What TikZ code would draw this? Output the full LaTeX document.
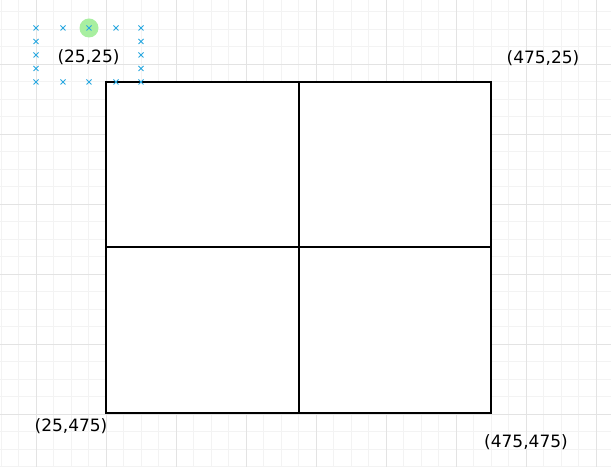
\documentclass[tikz,border=0pt]{standalone}
\usepackage{fontspec}
\newfontfamily\coordfont{DejaVu Sans}
\definecolor{gridminor}{HTML}{F3F3F3}
\definecolor{gridmajor}{HTML}{E3E3E3}
\definecolor{markblue}{HTML}{2AA8E0}
\definecolor{hovergreen}{HTML}{A8EFA0}
\tikzset{
  cell/.style={draw=black,line width=1.8bp},
  minorline/.style={draw=gridminor,line width=0.8bp},
  majorline/.style={draw=gridmajor,line width=0.9bp},
  xmark/.style={draw=markblue,line width=0.8bp},
  coordlabel/.style={font=\coordfont\fontsize{17bp}{20bp}\selectfont,inner sep=0pt}
}
\begin{document}
\begin{tikzpicture}[x=1bp,y=-1bp]
\useasboundingbox[fill=white] (0,0) rectangle (611,467);
% grid
\foreach \i in {0,...,34} {
  \draw[minorline] ({1+17.5*\i},0) -- ({1+17.5*\i},467);
}
\foreach \i in {0,...,26} {
  \draw[minorline] (0,{11.5+17.5*\i}) -- (611,{11.5+17.5*\i});
}
\foreach \i in {0,...,8} {
  \draw[majorline] ({36+70*\i},0) -- ({36+70*\i},467);
}
\foreach \i in {0,...,6} {
  \draw[majorline] (0,{-6+70*\i}) -- (611,{-6+70*\i});
}
% corners of the square
\coordinate (nw) at (106,82);
\coordinate (ne) at (491,82);
\coordinate (sw) at (106,413);
\coordinate (se) at (491,413);
\coordinate (n) at (299,82);
\coordinate (s) at (299,413);
\coordinate (w) at (106,247);
\coordinate (e) at (491,247);
\fill[white] (nw) rectangle (se);
\draw[cell] (n) -- (s);
\draw[cell] (w) -- (e);
\draw[cell] (nw) -- (ne) -- (se) -- (sw) -- cycle;
% hover point
\fill[hovergreen] (89,28) circle (9.5);
\foreach \p in {(36,28),(63,28),(89,28),(116,28),(141,28),
                (36,41.5),(36,55),(36,68.5),(141,41.5),(141,55),(141,68.5),
                (36,82),(63,82),(89,82),(116,82),(141,82)} {
  \draw[xmark] \p ++(-2.5,-2.5) -- ++(5,5) \p ++(-2.5,2.5) -- ++(5,-5);
}
% labels
\node[coordlabel] (lnw) at (88.5,57) {(25,25)};
\node[coordlabel] (lne) at (543,58) {(475,25)};
\node[coordlabel] (lsw) at (71,426) {(25,475)};
\node[coordlabel] (lse) at (526,442) {(475,475)};
\end{tikzpicture}
\end{document}
